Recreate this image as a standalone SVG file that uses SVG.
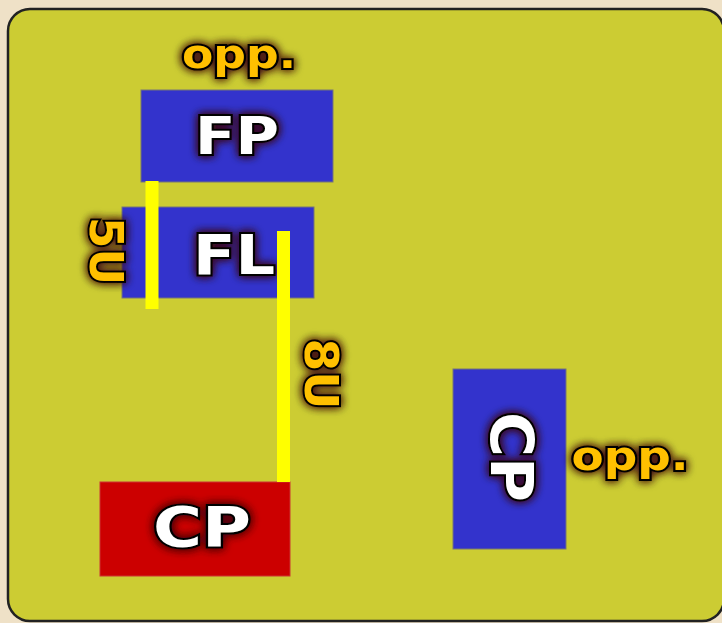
<svg xmlns="http://www.w3.org/2000/svg" width="722" height="623" viewBox="0 0 722 623">
<defs>
<filter id="glow" x="-30%" y="-30%" width="160%" height="160%">
<feGaussianBlur in="SourceAlpha" stdDeviation="5" result="b"/>
<feFlood flood-color="#3a0a10" flood-opacity="0.8"/>
<feComposite in2="b" operator="in" result="s"/>
<feMerge><feMergeNode in="s"/><feMergeNode in="s"/><feMergeNode in="SourceGraphic"/></feMerge>
</filter>
<style>
.node{fill:#3333cc;stroke:#777;stroke-width:1}
.red{fill:#cc0000;stroke:#c33;stroke-width:1}
.lbl{font-family:"DejaVu Sans",sans-serif;font-weight:bold;fill:#ffffff;stroke:#000;stroke-width:4;paint-order:stroke;text-anchor:middle;filter:url(#glow)}
.tag{font-family:"DejaVu Sans",sans-serif;font-weight:bold;fill:#ffc000;stroke:#000;stroke-width:4;paint-order:stroke;text-anchor:middle;filter:url(#glow)}
.conn{stroke:#ffff00;fill:none}
</style>
</defs>
<rect x="0" y="0" width="722" height="623" fill="#efe1c7"/>
<rect x="8" y="9" width="716" height="612" rx="22" fill="#cccc33" stroke="#222" stroke-width="2.5"/>
<g id="FP">
<rect class="node" x="141" y="90" width="192" height="92"/>
<text class="lbl" x="237" y="154" font-size="52" textLength="84" lengthAdjust="spacingAndGlyphs">FP</text>
<text class="tag" x="239" y="68" font-size="40" textLength="114" lengthAdjust="spacingAndGlyphs">opp.</text>
</g>
<g id="FL">
<rect class="node" x="122" y="207" width="192" height="91"/>
<text class="lbl" x="234" y="274" font-size="56" textLength="82" lengthAdjust="spacingAndGlyphs">FL</text>
</g>
<g id="CP1">
<rect class="red" x="100" y="482" width="190" height="94"/>
<text class="lbl" x="202" y="546" font-size="56" textLength="98" lengthAdjust="spacingAndGlyphs">CP</text>
</g>
<g id="CP2">
<rect class="node" x="453" y="369" width="113" height="180"/>
<text class="lbl" transform="translate(512,457) rotate(90)" x="0" y="21" font-size="58" textLength="90" lengthAdjust="spacingAndGlyphs">CP</text>
<text class="tag" x="630" y="470" font-size="40" textLength="117" lengthAdjust="spacingAndGlyphs">opp.</text>
</g>
<g id="connectors">
<line class="conn" x1="152" y1="181" x2="152" y2="309" stroke-width="13"/>
<line class="conn" x1="283.5" y1="231" x2="283.5" y2="482" stroke-width="13"/>
<text class="tag" transform="translate(107,251) rotate(90)" x="0" y="17" font-size="46" textLength="68" lengthAdjust="spacingAndGlyphs">5U</text>
<text class="tag" transform="translate(322,374) rotate(90)" x="0" y="17" font-size="47" textLength="71" lengthAdjust="spacingAndGlyphs">8U</text>
</g>
</svg>
